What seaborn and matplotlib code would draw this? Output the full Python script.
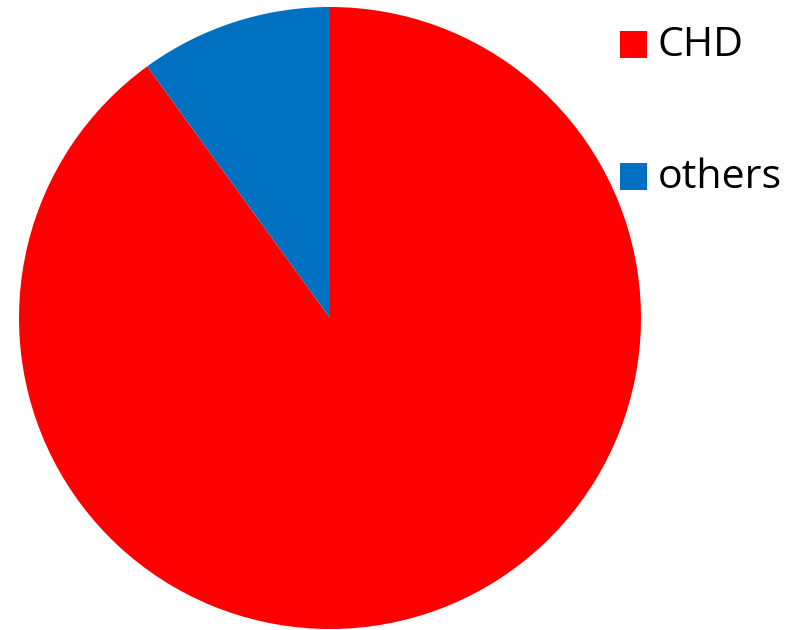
import matplotlib
matplotlib.use("Agg")
import matplotlib.pyplot as plt
import seaborn as sns
from matplotlib.patches import Rectangle

categories = ["CHD", "others"]
shares = [90, 10]
colors = ["#FF0000", "#0070C0"]

sns.set_theme(style="white")
plt.rcParams["font.family"] = ["Open Sans", "DejaVu Sans"]

W, H = 794, 630
fig = plt.figure(figsize=(W / 100, H / 100), dpi=100)
fig.patch.set_facecolor("white")

# pie area in pixels: left 19, top 7, diameter 622
ax = fig.add_axes([19 / W, (H - 629) / H, 622 / W, 622 / H])
ax.pie(shares, colors=colors, startangle=90, counterclock=False,
       radius=1, wedgeprops=dict(linewidth=0))
ax.set_xlim(-1, 1)
ax.set_ylim(-1, 1)
ax.set_aspect("equal")
ax.axis("off")

# legend: colour squares and labels
rows_top = [31, 163]
for cat, col, top in zip(categories, colors, rows_top):
    fig.patches.append(Rectangle((620 / W, (H - top - 27) / H), 27 / W, 27 / H,
                                 transform=fig.transFigure, facecolor=col,
                                 edgecolor="none"))
    fig.text(658 / W, (H - top - 15) / H, cat, fontsize=29.6, color="black",
             va="center", ha="left")

fig.savefig("out.png", dpi=100, facecolor="white")
